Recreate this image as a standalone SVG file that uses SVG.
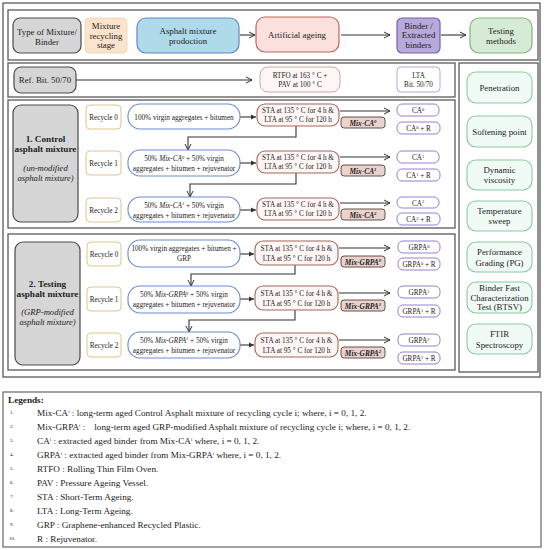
<svg xmlns="http://www.w3.org/2000/svg" width="547" height="550" viewBox="0 0 547 550">
<style>
text{font-family:"Liberation Serif","DejaVu Serif",serif;fill:#222;text-anchor:middle}
.frame{fill:none;stroke:#5a5a5a;stroke-width:1.3}
.gray{fill:#d6d6d6;stroke:#4a4a4a;stroke-width:1.2}
.rec{fill:#fff;stroke:#e0c58a;stroke-width:1}
.mix{fill:#fff;stroke:#6c8bd6;stroke-width:1.1}
.sta{fill:#fef6f5;stroke:#a4695d;stroke-width:1.1}
.lab{fill:#ead3cf;stroke:#5b3d37;stroke-width:0.9}
.bin{fill:#fff;stroke:#9a80cf;stroke-width:1}
.tst{fill:#f1fbf6;stroke:#8cc7a0;stroke-width:1.1}
.s7{font-size:7.2px}
.s8{font-size:8.8px}
.lb{font-size:7.4px;font-weight:bold;font-style:italic}
.conn{fill:none;stroke:#333;stroke-width:1.1}
.leg{font-size:9.2px;text-anchor:start}
.num{font-size:5px;text-anchor:start}
</style>
<defs>
<marker id="open" markerWidth="8" markerHeight="8" refX="7" refY="4" orient="auto" markerUnits="userSpaceOnUse"><path d="M1,1 L7,4 L1,7" fill="none" stroke="#333" stroke-width="1"/></marker>
<marker id="tri" markerWidth="6" markerHeight="6" refX="5" refY="3" orient="auto" markerUnits="userSpaceOnUse"><path d="M0,0.5 L5,3 L0,5.5 z" fill="#333"/></marker>
</defs>

<rect class="frame" x="3" y="3" width="537" height="374"/>
<rect class="frame" x="8" y="10" width="530" height="50"/>
<rect class="frame" x="8" y="63" width="447" height="34"/>
<rect class="frame" x="459" y="63" width="79" height="309"/>
<rect class="frame" x="8" y="100" width="447" height="128"/>
<rect class="frame" x="8" y="234" width="447" height="136"/>

<g id="connectors">
<line class="conn" x1="240" y1="35" x2="255" y2="35" marker-end="url(#open)"/>
<line class="conn" x1="341" y1="35" x2="390" y2="35" marker-end="url(#open)"/>
<line class="conn" x1="441" y1="35" x2="466" y2="35" marker-end="url(#open)"/>
<line class="conn" x1="76" y1="80" x2="252" y2="80" marker-end="url(#open)"/>
<line class="conn" x1="240" y1="117" x2="256" y2="117" marker-end="url(#tri)"/>
<line class="conn" x1="240" y1="163" x2="256" y2="163" marker-end="url(#tri)"/>
<line class="conn" x1="240" y1="210" x2="256" y2="210" marker-end="url(#tri)"/>
<line class="conn" x1="240" y1="254" x2="254" y2="254" marker-end="url(#tri)"/>
<line class="conn" x1="240" y1="299" x2="254" y2="299" marker-end="url(#tri)"/>
<line class="conn" x1="240" y1="345" x2="254" y2="345" marker-end="url(#tri)"/>
<line class="conn" x1="340" y1="111" x2="390" y2="111" marker-end="url(#open)"/>
<line class="conn" x1="340" y1="157" x2="390" y2="157" marker-end="url(#open)"/>
<line class="conn" x1="340" y1="203" x2="390" y2="203" marker-end="url(#open)"/>
<line class="conn" x1="339" y1="248" x2="390" y2="248" marker-end="url(#open)"/>
<line class="conn" x1="339" y1="293" x2="390" y2="293" marker-end="url(#open)"/>
<line class="conn" x1="339" y1="340" x2="390" y2="340" marker-end="url(#open)"/>
<path class="conn" d="M296,126 V137 H188 V150" marker-end="url(#open)"/>
<path class="conn" d="M296,173 V184 H190 V197" marker-end="url(#open)"/>
<path class="conn" d="M295,265 V274 H191 V286" marker-end="url(#open)"/>
<path class="conn" d="M295,310 V320 H189 V332" marker-end="url(#open)"/>
</g>

<g id="hdr-type"><rect class="gray" x="13" y="18" width="68" height="35" rx="7"/><text class="s8" x="47" y="35">Type of Mixture/</text><text class="s8" x="47" y="45">Binder</text></g>
<g id="hdr-stage"><rect x="85" y="18" width="42" height="35" rx="4" fill="#fce3cb" stroke="#f2d2b2" stroke-width="0.8"/><text class="s8" x="106" y="29">Mixture</text><text class="s8" x="106" y="38.5">recycling</text><text class="s8" x="106" y="48">stage</text></g>
<g id="hdr-prod"><rect x="137" y="18" width="102" height="35" rx="9" fill="#afdaea" stroke="#5f86c5" stroke-width="1.2"/><text class="s8" x="188" y="34">Asphalt mixture</text><text class="s8" x="188" y="44">prodoction</text></g>
<g id="hdr-ageing"><rect x="256" y="17" width="83" height="35" rx="9" fill="#fbe0dd" stroke="#c4645a" stroke-width="1.2"/><text class="s8" x="297" y="38">Artificial ageing</text></g>
<g id="hdr-binder"><rect x="397" y="18" width="43" height="35" rx="5" fill="#b7a9d9" stroke="#7660ad" stroke-width="1.2"/><text class="s8" x="418.5" y="28.5">Binder /</text><text class="s8" x="418.5" y="38">Extracted</text><text class="s8" x="418.5" y="47.5">binders</text></g>
<g id="hdr-test"><rect x="470" y="18" width="62" height="35" rx="9" fill="#d6ebd3" stroke="#84b57a" stroke-width="1.2"/><text class="s8" x="501" y="34">Testing</text><text class="s8" x="501" y="44">methods</text></g>

<g id="ref-bit"><rect class="gray" x="14" y="67" width="62" height="26" rx="7"/><text class="s8" x="45" y="83">Ref. Bit. 50/70</text></g>
<g id="ref-rtfo"><rect x="260" y="67" width="80" height="25" rx="8" fill="#fef7f6" stroke="#d6a69d" stroke-width="1"/><text class="s7" x="300" y="77.5">RTFO at 163 ° C +</text><text class="s7" x="300" y="86.5">PAV at 100 ° C</text></g>
<g id="ref-lta"><rect x="397" y="67" width="43" height="25" rx="4" fill="#fff" stroke="#b7a9d9" stroke-width="1"/><text class="s7" x="418.5" y="77.5">LTA</text><text class="s7" x="418.5" y="87">Bit. 50/70</text></g>

<g id="ctrl-label"><rect class="gray" x="13" y="105" width="65" height="117" rx="8"/>
<text x="45.5" y="142" style="font-size:9.2px;font-weight:bold">1. Control</text>
<text x="45.5" y="152" style="font-size:9.2px;font-weight:bold">asphalt mixture</text>
<text x="45.5" y="171" style="font-size:8.6px;font-style:italic">(un-modified</text>
<text x="45.5" y="181" style="font-size:8.6px;font-style:italic">asphalt mixture)</text></g>

<g id="grp-label"><rect class="gray" x="15" y="242" width="65" height="123" rx="8"/>
<text x="47.5" y="287" style="font-size:9.2px;font-weight:bold">2. Testing</text>
<text x="47.5" y="297" style="font-size:9.2px;font-weight:bold">asphalt mixture</text>
<text x="47.5" y="315" style="font-size:8.6px;font-style:italic">(GRP-modified</text>
<text x="47.5" y="325" style="font-size:8.6px;font-style:italic">asphalt mixture)</text></g>

<!-- Control rows -->
<g id="c-rec0"><rect class="rec" x="86" y="105" width="35" height="24" rx="4"/><text class="s7" x="103.5" y="119.5">Recycle 0</text></g>
<g id="c-mix0"><rect class="mix" x="128" y="104" width="112" height="25" rx="12"/><text class="s7" x="184" y="119.5">100% virgin aggregates + bitumen</text></g>
<g id="c-sta0"><rect class="sta" x="257" y="104" width="82" height="22" rx="8"/><text class="s7" x="298" y="113">STA at 135 ° C for 4 h &amp;</text><text class="s7" x="298" y="122">LTA at 95 ° C for 120 h</text></g>
<g id="c-lab0"><rect class="lab" x="341" y="117" width="44" height="11" rx="3"/><text class="lb" x="363" y="125.5">Mix-CA<tspan font-size="4.8" dy="-2.5">0</tspan></text></g>
<g id="c-ca0"><rect class="bin" x="397" y="104" width="42" height="12" rx="5"/><text class="s7" x="418" y="113">CA<tspan font-size="4.5" dy="-2.5">0</tspan></text></g>
<g id="c-ca0r"><rect class="bin" x="397" y="122" width="43" height="12" rx="5"/><text class="s7" x="418.5" y="131">CA<tspan font-size="4.5" dy="-2.5">0</tspan><tspan dy="2.5"> + R</tspan></text></g>

<g id="c-rec1"><rect class="rec" x="86" y="151" width="35" height="24" rx="4"/><text class="s7" x="103.5" y="165.5">Recycle 1</text></g>
<g id="c-mix1"><rect class="mix" x="128" y="150" width="112" height="26" rx="12"/><text class="s7" x="184" y="161">50% <tspan font-style="italic">Mix-CA<tspan font-size="4.5" dy="-2.5">0</tspan></tspan><tspan dy="2.5"> + 50% virgin</tspan></text><text class="s7" x="184" y="171">aggregates + bitumen + rejuvenator</text></g>
<g id="c-sta1"><rect class="sta" x="257" y="151" width="82" height="22" rx="8"/><text class="s7" x="298" y="160">STA at 135 ° C for 4 h &amp;</text><text class="s7" x="298" y="169">LTA at 95 ° C for 120 h</text></g>
<g id="c-lab1"><rect class="lab" x="341" y="165" width="44" height="11" rx="3"/><text class="lb" x="363" y="173.5">Mix-CA<tspan font-size="4.8" dy="-2.5">1</tspan></text></g>
<g id="c-ca1"><rect class="bin" x="397" y="151" width="42" height="12" rx="5"/><text class="s7" x="418" y="160">CA<tspan font-size="4.5" dy="-2.5">1</tspan></text></g>
<g id="c-ca1r"><rect class="bin" x="397" y="169" width="43" height="12" rx="5"/><text class="s7" x="418.5" y="178">CA<tspan font-size="4.5" dy="-2.5">1</tspan><tspan dy="2.5"> + R</tspan></text></g>

<g id="c-rec2"><rect class="rec" x="86" y="198" width="35" height="24" rx="4"/><text class="s7" x="103.5" y="212.5">Recycle 2</text></g>
<g id="c-mix2"><rect class="mix" x="128" y="197" width="112" height="25" rx="12"/><text class="s7" x="184" y="207.5">50% <tspan font-style="italic">Mix-CA<tspan font-size="4.5" dy="-2.5">1</tspan></tspan><tspan dy="2.5"> + 50% virgin</tspan></text><text class="s7" x="184" y="217.5">aggregates + bitumen + rejuvenator</text></g>
<g id="c-sta2"><rect class="sta" x="257" y="198" width="82" height="22" rx="8"/><text class="s7" x="298" y="207">STA at 135 ° C for 4 h &amp;</text><text class="s7" x="298" y="216">LTA at 95 ° C for 120 h</text></g>
<g id="c-lab2"><rect class="lab" x="341" y="209" width="44" height="11" rx="3"/><text class="lb" x="363" y="217.5">Mix-CA<tspan font-size="4.8" dy="-2.5">2</tspan></text></g>
<g id="c-ca2"><rect class="bin" x="397" y="197" width="42" height="11" rx="5"/><text class="s7" x="418" y="205.5">CA<tspan font-size="4.5" dy="-2.5">2</tspan></text></g>
<g id="c-ca2r"><rect class="bin" x="397" y="213" width="43" height="12" rx="5"/><text class="s7" x="418.5" y="222">CA<tspan font-size="4.5" dy="-2.5">2</tspan><tspan dy="2.5"> + R</tspan></text></g>

<!-- GRP rows -->
<g id="g-rec0"><rect class="rec" x="87" y="242" width="34" height="24" rx="4"/><text class="s7" x="104" y="256.5">Recycle 0</text></g>
<g id="g-mix0"><rect class="mix" x="128" y="240" width="112" height="27" rx="12"/><text class="s7" x="184" y="251">100% virgin aggregates + bitumen +</text><text class="s7" x="184" y="261">GRP</text></g>
<g id="g-sta0"><rect class="sta" x="255" y="241" width="83" height="24" rx="8"/><text class="s7" x="296.5" y="251">STA at 135 ° C for 4 h &amp;</text><text class="s7" x="296.5" y="260.5">LTA at 95 ° C for 120 h</text></g>
<g id="g-lab0"><rect class="lab" x="341" y="256" width="44" height="11" rx="3"/><text class="lb" x="363" y="264.5">Mix-GRPA<tspan font-size="4.8" dy="-2.5">0</tspan></text></g>
<g id="g-ca0"><rect class="bin" x="398" y="241" width="42" height="12" rx="5"/><text class="s7" x="419" y="250">GRPA<tspan font-size="4.5" dy="-2.5">0</tspan></text></g>
<g id="g-ca0r"><rect class="bin" x="398" y="258" width="42" height="12" rx="5"/><text class="s7" x="419" y="267">GRPA<tspan font-size="4.5" dy="-2.5">0</tspan><tspan dy="2.5"> + R</tspan></text></g>

<g id="g-rec1"><rect class="rec" x="87" y="287" width="34" height="24" rx="4"/><text class="s7" x="104" y="301.5">Recycle 1</text></g>
<g id="g-mix1"><rect class="mix" x="128" y="286" width="112" height="27" rx="12"/><text class="s7" x="184" y="297">50% <tspan font-style="italic">Mix-GRPA<tspan font-size="4.5" dy="-2.5">0</tspan></tspan><tspan dy="2.5"> + 50% virgin</tspan></text><text class="s7" x="184" y="307">aggregates + bitumen + rejuvenator</text></g>
<g id="g-sta1"><rect class="sta" x="255" y="286" width="83" height="24" rx="8"/><text class="s7" x="296.5" y="296">STA at 135 ° C for 4 h &amp;</text><text class="s7" x="296.5" y="305.5">LTA at 95 ° C for 120 h</text></g>
<g id="g-lab1"><rect class="lab" x="341" y="300" width="44" height="11" rx="3"/><text class="lb" x="363" y="308.5">Mix-GRPA<tspan font-size="4.8" dy="-2.5">1</tspan></text></g>
<g id="g-ca1"><rect class="bin" x="398" y="286" width="42" height="12" rx="5"/><text class="s7" x="419" y="295">GRPA<tspan font-size="4.5" dy="-2.5">1</tspan></text></g>
<g id="g-ca1r"><rect class="bin" x="398" y="305" width="42" height="12" rx="5"/><text class="s7" x="419" y="314">GRPA<tspan font-size="4.5" dy="-2.5">1</tspan><tspan dy="2.5"> + R</tspan></text></g>

<g id="g-rec2"><rect class="rec" x="87" y="333" width="34" height="24" rx="4"/><text class="s7" x="104" y="347.5">Recycle 2</text></g>
<g id="g-mix2"><rect class="mix" x="128" y="332" width="112" height="26" rx="12"/><text class="s7" x="184" y="342.5">50% <tspan font-style="italic">Mix-GRPA<tspan font-size="4.5" dy="-2.5">1</tspan></tspan><tspan dy="2.5"> + 50% virgin</tspan></text><text class="s7" x="184" y="352.5">aggregates + bitumen + rejuvenator</text></g>
<g id="g-sta2"><rect class="sta" x="255" y="333" width="83" height="24" rx="8"/><text class="s7" x="296.5" y="343">STA at 135 ° C for 4 h &amp;</text><text class="s7" x="296.5" y="352.5">LTA at 95 ° C for 120 h</text></g>
<g id="g-lab2"><rect class="lab" x="341" y="347" width="44" height="11" rx="3"/><text class="lb" x="363" y="355.5">Mix-GRPA<tspan font-size="4.8" dy="-2.5">2</tspan></text></g>
<g id="g-ca2"><rect class="bin" x="398" y="334" width="42" height="12" rx="5"/><text class="s7" x="419" y="343">GRPA<tspan font-size="4.5" dy="-2.5">2</tspan></text></g>
<g id="g-ca2r"><rect class="bin" x="398" y="352" width="42" height="12" rx="5"/><text class="s7" x="419" y="361">GRPA<tspan font-size="4.5" dy="-2.5">2</tspan><tspan dy="2.5"> + R</tspan></text></g>

<!-- Testing methods -->
<g id="t-pen"><rect class="tst" x="467" y="72" width="65" height="31" rx="9"/><text class="s8" x="499.5" y="91">Penetration</text></g>
<g id="t-soft"><rect class="tst" x="467" y="116" width="65" height="31" rx="9"/><text class="s8" x="499.5" y="134.5">Softening point</text></g>
<g id="t-visc"><rect class="tst" x="467" y="160" width="65" height="30" rx="9"/><text class="s8" x="499.5" y="173">Dynamic</text><text class="s8" x="499.5" y="183">viscosity</text></g>
<g id="t-sweep"><rect class="tst" x="467" y="201" width="65" height="30" rx="9"/><text class="s8" x="499.5" y="214">Temperature</text><text class="s8" x="499.5" y="224">sweep</text></g>
<g id="t-pg"><rect class="tst" x="467" y="242" width="65" height="30" rx="9"/><text class="s8" x="499.5" y="255">Performance</text><text class="s8" x="499.5" y="265.5">Grading (PG)</text></g>
<g id="t-btsv"><rect class="tst" x="467" y="282" width="65" height="31" rx="9"/><text class="s8" x="499.5" y="291">Binder Fast</text><text class="s8" x="499.5" y="300.5">Characterization</text><text class="s8" x="499.5" y="310">Test (BTSV)</text></g>
<g id="t-ftir"><rect class="tst" x="467" y="324" width="65" height="30" rx="9"/><text class="s8" x="499.5" y="337">FTIR</text><text class="s8" x="499.5" y="347.5">Spectroscopy</text></g>

<!-- Legend -->
<g id="legend">
<rect x="3" y="392" width="538" height="155" fill="#fff" stroke="#666" stroke-width="1.2"/>
<text class="leg" x="8" y="403" font-weight="bold">Legends:</text>
<text class="num" x="10" y="414">1.</text><text class="leg" x="37" y="416">Mix-CA<tspan font-size="5" dy="-3">i</tspan><tspan dy="3"> : long-term aged Control Asphalt mixture of recycling cycle i; where, i = 0, 1, 2.</tspan></text>
<text class="num" x="10" y="428">2.</text><text class="leg" x="37" y="430">Mix-GRPA<tspan font-size="5" dy="-3">i</tspan><tspan dy="3"> :</tspan><tspan dx="9">long-term aged GRP-modified Asphalt mixture of recycling cycle i; where, i = 0, 1, 2.</tspan></text>
<text class="num" x="10" y="442">3.</text><text class="leg" x="37" y="444">CA<tspan font-size="5" dy="-3">i</tspan><tspan dy="3"> : extracted aged binder from Mix-CA</tspan><tspan font-size="5" dy="-3">i</tspan><tspan dy="3"> where, i = 0, 1, 2.</tspan></text>
<text class="num" x="10" y="456">4.</text><text class="leg" x="37" y="458">GRPA<tspan font-size="5" dy="-3">i</tspan><tspan dy="3"> : extracted aged binder from Mix-GRPA</tspan><tspan font-size="5" dy="-3">i</tspan><tspan dy="3"> where, i = 0, 1, 2.</tspan></text>
<text class="num" x="10" y="470">5.</text><text class="leg" x="37" y="472">RTFO : Rolling Thin Film Oven.</text>
<text class="num" x="10" y="484">6.</text><text class="leg" x="37" y="486">PAV : Pressure Ageing Vessel.</text>
<text class="num" x="10" y="498">7.</text><text class="leg" x="37" y="500">STA : Short-Term Ageing.</text>
<text class="num" x="10" y="512">8.</text><text class="leg" x="37" y="514">LTA : Long-Term Ageing.</text>
<text class="num" x="10" y="526">9.</text><text class="leg" x="37" y="528">GRP : Graphene-enhanced Recycled Plastic.</text>
<text class="num" x="9" y="540">10.</text><text class="leg" x="37" y="542">R : Rejuvenator.</text>
</g>
</svg>
